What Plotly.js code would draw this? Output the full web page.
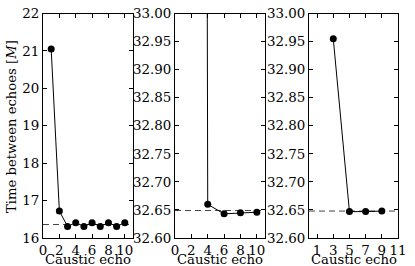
<!DOCTYPE html>
<html>
<head>
<meta charset="utf-8">
<script src="https://cdn.plot.ly/plotly-3.0.1.min.js"></script>
<style>html,body{margin:0;padding:0;background:#fff;}#chart{width:415px;height:266px;}</style>
</head>
<body>
<div id="chart"></div>
<script>
// Panel 1
const echo1 = [1, 2, 3, 4, 5, 6, 7, 8, 9, 10];
const time1 = [21.05, 16.72, 16.31, 16.41, 16.31, 16.41, 16.31, 16.41, 16.31, 16.41];
const ref1 = 16.36;
// Panel 2
const echo2 = [2, 4, 6, 8, 10];
const time2 = [45.0, 32.66, 32.643, 32.645, 32.646];
const ref2 = 32.649;
// Panel 3
const echo3 = [3, 5, 7, 9];
const time3 = [32.955, 32.647, 32.647, 32.648];
const ref3 = 32.648;
const refX = [0, 11];

const xTitle = 'Caustic echo';
const yTitle = 'Time between echoes [<i>M</i>]';

const font = {family: 'DejaVu Serif', size: 13.4, color: '#000'};
const tfont = {family: 'DejaVu Serif', size: 13.2, color: '#000'};

function pts(x, y, xa, ya) {
  return {x: x, y: y, xaxis: xa, yaxis: ya, type: 'scatter', mode: 'lines+markers',
    line: {color: '#000', width: 1}, marker: {color: '#000', size: 7}, showlegend: false, hoverinfo: 'skip'};
}
function ref(v, xa, ya) {
  return {x: refX, y: [v, v], xaxis: xa, yaxis: ya, type: 'scatter', mode: 'lines',
    line: {color: '#444', width: 1, dash: '6px,4px'}, showlegend: false, hoverinfo: 'skip'};
}

const data = [
  ref(ref1, 'x', 'y'), pts(echo1, time1, 'x', 'y'),
  ref(ref2, 'x2', 'y2'), pts(echo2, time2, 'x2', 'y2'),
  ref(ref3, 'x3', 'y3'), pts(echo3, time3, 'x3', 'y3')
];

const W = 415, H = 266;
const ydom = [(H - 238) / H, (H - 13.5) / H];
const panels = [[43, 133], [175, 265], [309, 398]];
function xax(p, tick0) {
  return {domain: [p[0] / W, p[1] / W], range: [0, 11], tick0: tick0, dtick: 2, ticks: 'inside', ticklen: 4,
    tickcolor: '#000', showline: true, linecolor: '#000', linewidth: 1, mirror: 'ticks', showgrid: false,
    zeroline: false, tickfont: font, automargin: false};
}
function yax(range, dtick, fmt, anchor) {
  return {domain: ydom, range: range, dtick: dtick, tickformat: fmt, ticks: 'inside', ticklen: 4,
    tickcolor: '#000', showline: true, linecolor: '#000', linewidth: 1, mirror: 'ticks', showgrid: false,
    zeroline: false, tickfont: font, anchor: anchor, automargin: false};
}

const annotations = panels.map(p => ({
  text: xTitle, xref: 'paper', yref: 'paper', x: (p[0] + p[1]) / 2 / W, y: (H - 259) / H,
  xanchor: 'center', yanchor: 'middle', showarrow: false, borderpad: 0, font: tfont
}));
annotations.push({text: yTitle, xref: 'paper', yref: 'paper', x: 12 / W, y: (H - 127) / H,
  xanchor: 'center', yanchor: 'middle', textangle: -90, showarrow: false, borderpad: 0, font: tfont});

const layout = {
  width: W, height: H, margin: {l: 0, r: 0, t: 0, b: 0},
  paper_bgcolor: '#fff', plot_bgcolor: '#fff', font: font,
  xaxis: Object.assign(xax(panels[0], 0), {anchor: 'y'}),
  yaxis: yax([16, 22], 1, 'd', 'x'),
  xaxis2: Object.assign(xax(panels[1], 0), {anchor: 'y2'}),
  yaxis2: yax([32.6, 33.0], 0.05, '.2f', 'x2'),
  xaxis3: Object.assign(xax(panels[2], 1), {anchor: 'y3'}),
  yaxis3: yax([32.6, 33.0], 0.05, '.2f', 'x3'),
  annotations: annotations
};

Plotly.newPlot('chart', data, layout, {staticPlot: true, displayModeBar: false});
</script>
</body>
</html>
